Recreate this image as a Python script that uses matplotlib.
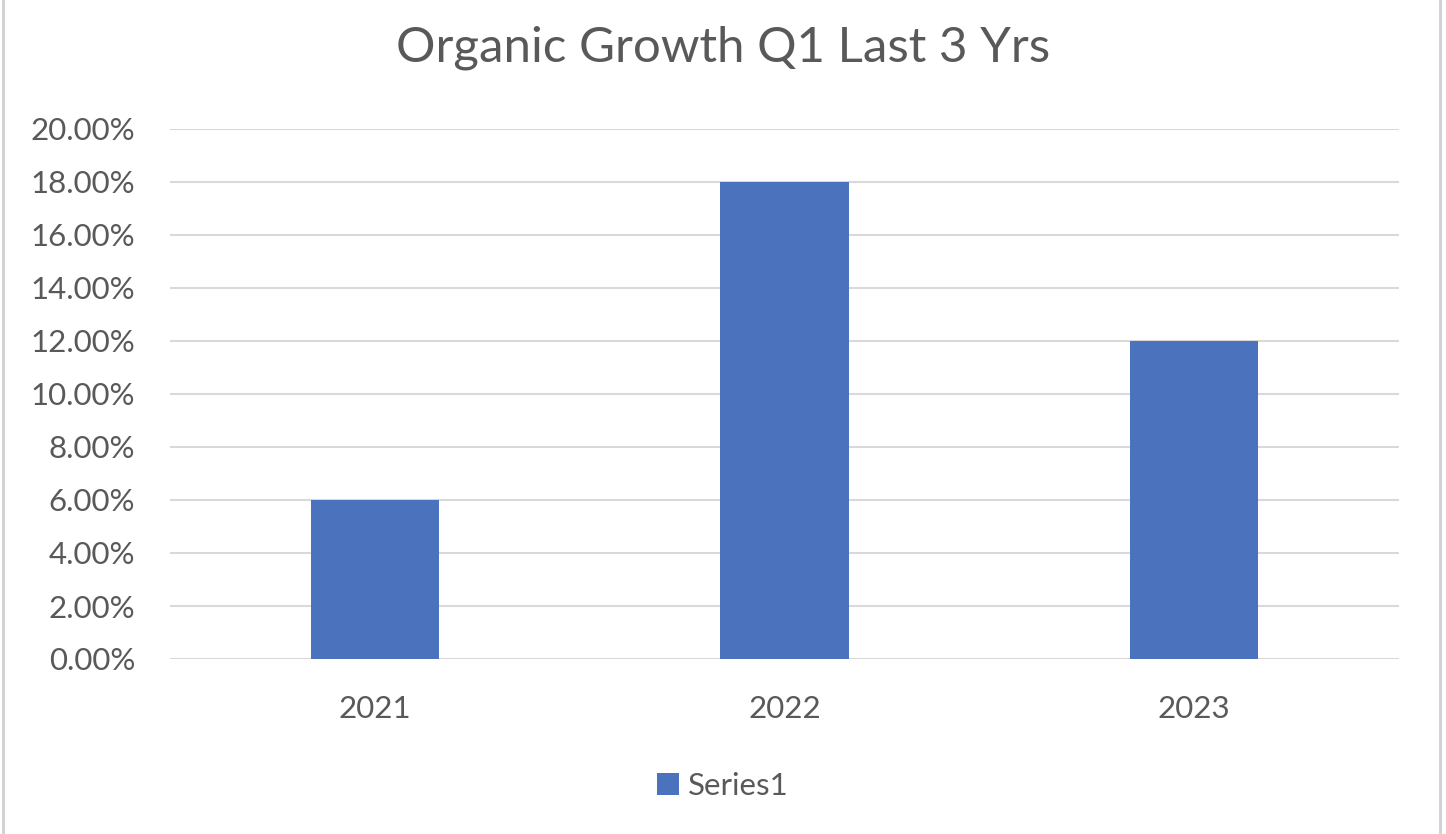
import matplotlib.pyplot as plt
from matplotlib.ticker import FuncFormatter

years = ['2021', '2022', '2023']
growth = [0.06, 0.18, 0.12]
y_ticks = [0.00, 0.02, 0.04, 0.06, 0.08, 0.10, 0.12, 0.14, 0.16, 0.18, 0.20]

plt.rcParams['font.family'] = ['Lato', 'DejaVu Sans']
text_color = '#595959'

fig = plt.figure(figsize=(14.46, 8.34), dpi=100)
ax = fig.add_axes([170/1446, 1-659/834, (1399-170)/1446, (659-129)/834])

x = range(len(years))
bars = ax.bar(x, growth, width=0.3125, color='#4a72bd', label='Series1', zorder=3)

ax.set_xlim(-0.5, 2.5)
ax.set_ylim(0, 0.20)
ax.set_yticks(y_ticks)
ax.yaxis.set_major_formatter(FuncFormatter(lambda v, p: f'{v*100:.2f}%'))
ax.set_xticks(list(x))
ax.set_xticklabels(years)
ax.grid(axis='y', color='#d9d9d9', linewidth=1.5, zorder=0)
for s in ax.spines.values():
    s.set_visible(False)
ax.tick_params(length=0, labelsize=22.5, labelcolor=text_color)
ax.tick_params(axis='y', pad=25)
ax.tick_params(axis='x', pad=26)

fig.text(0.5, 1-48/834, 'Organic Growth Q1 Last 3 Yrs', ha='center', va='center',
         fontsize=35.5, color=text_color)

fig.legend(handles=[bars], labels=['Series1'], loc='center', bbox_to_anchor=(0.5, 1-786/834),
           frameon=False, fontsize=22.5, labelcolor=text_color, handlelength=0.7, handleheight=0.7,
           handletextpad=0.3)

# screenshot border lines
fig.add_artist(plt.Line2D([3/1446, 3/1446], [0, 1], color='#d0d0d0', lw=2))
fig.add_artist(plt.Line2D([1440/1446, 1440/1446], [0, 1], color='#d0d0d0', lw=2))

fig.savefig('out.png', dpi=100)
